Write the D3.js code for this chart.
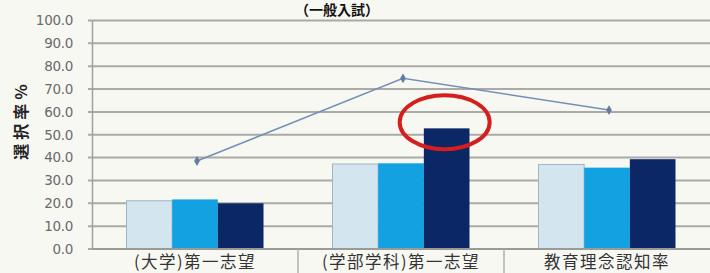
<!DOCTYPE html>
<html>
<head>
<meta charset="utf-8">
<script src="https://cdn.jsdelivr.net/npm/d3@7"></script>
<style>
  body { margin: 0; background: #f8f8f3; }
  svg { display: block; }
</style>
</head>
<body>
<div id="chart"></div>
<script>
// data
var categories = ["(大学)第一志望", "(学部学科)第一志望", "教育理念認知率"];
var seriesNames = ["系列1", "系列2", "系列3"];
var series1 = [21.1, 37.2, 37.0];
var series2 = [21.7, 37.5, 35.6];
var series3 = [20.0, 52.8, 39.3];
var lineValues = [38.5, 74.7, 60.8];
var yTicks = [0, 10, 20, 30, 40, 50, 60, 70, 80, 90, 100];
var title = "（一般入試）";
var yTitle = "選択率%";

var colors = ["#d3e5ee", "#12a2e2", "#0c2766"];

// dimensions
var margin = { top: 20.5, right: 0, bottom: 24, left: 92 },
    width = 710 - margin.left - margin.right,
    height = 273 - margin.top - margin.bottom;

var root = d3.select("#chart")
    .append("svg")
    .attr("width", 710)
    .attr("height", 273);

root.append("rect")
    .attr("width", 710)
    .attr("height", 273)
    .attr("fill", "#f8f8f3");

var svg = root.append("g")
    .attr("transform", "translate(" + margin.left + "," + margin.top + ")");

// scales
var x = d3.scaleBand()
    .domain(categories)
    .range([0, width])
    .paddingInner(0.335)
    .paddingOuter(0.1675);

var xSub = d3.scaleBand()
    .domain(seriesNames)
    .range([0, x.bandwidth()])
    .padding(0);

var y = d3.scaleLinear()
    .domain([0, 100])
    .range([height, 0]);

// gridlines
svg.append("g")
    .selectAll("line")
    .data(yTicks)
    .enter()
    .append("line")
    .attr("x1", -4)
    .attr("x2", width)
    .attr("y1", function (d) { return y(d) })
    .attr("y2", function (d) { return y(d) })
    .attr("stroke", "#aaaaa6")
    .attr("stroke-width", 2);

// y axis
var yAxis = svg.append("g")
    .call(d3.axisLeft(y).tickValues(yTicks).tickFormat(d3.format(".1f")).tickSize(0).tickPadding(19));
yAxis.select(".domain").attr("stroke", "#a0a09c").attr("stroke-width", 1.5);
yAxis.selectAll("text")
    .attr("font-family", "DejaVu Sans")
    .attr("font-size", "13.5px")
    .attr("fill", "#6a6a6a")
    .attr("letter-spacing", "-0.3px");

// bars
var barData = [series1, series2, series3];
var groups = svg.append("g")
    .selectAll("g")
    .data(categories)
    .enter()
    .append("g")
    .attr("transform", function (d) { return "translate(" + x(d) + ",0)" });

groups.selectAll("rect")
    .data(function (d, i) {
        return seriesNames.map(function (s, j) { return { key: s, value: barData[j][i], idx: j } })
    })
    .enter()
    .append("rect")
    .attr("x", function (d) { return xSub(d.key) })
    .attr("y", function (d) { return y(d.value) })
    .attr("width", xSub.bandwidth())
    .attr("height", function (d) { return height - y(d.value) })
    .attr("fill", function (d) { return colors[d.idx] })
    .attr("stroke", function (d) { return d.idx == 0 ? "#9fb4c6" : "none" })
    .attr("stroke-width", 1);

// x axis
var xAxis = svg.append("g")
    .attr("transform", "translate(0," + height + ")")
    .call(d3.axisBottom(x).tickSize(0).tickPadding(0));
xAxis.select(".domain").remove();
xAxis.selectAll("text")
    .attr("y", 19)
    .attr("dy", 0)
    .attr("font-family", "Noto Sans CJK JP")
    .attr("font-size", "16.5px")
    .attr("letter-spacing", "1.5px")
    .attr("fill", "#333");

svg.append("line")
    .attr("x1", 0).attr("x2", width)
    .attr("y1", height).attr("y2", height)
    .attr("stroke", "#9a9a96")
    .attr("stroke-width", 2);

// category separators below the axis
svg.append("g")
    .selectAll("line")
    .data(categories.slice(1))
    .enter()
    .append("line")
    .attr("x1", function (d) { return x(d) - x.step() * x.paddingInner() / 2 })
    .attr("x2", function (d) { return x(d) - x.step() * x.paddingInner() / 2 })
    .attr("y1", height)
    .attr("y2", height + margin.bottom)
    .attr("stroke", "#b0b0ac")
    .attr("stroke-width", 1.5);

// line series
var line = d3.line()
    .x(function (d, i) { return x(categories[i]) + x.bandwidth() / 2 + 2 })
    .y(function (d) { return y(d) });

svg.append("path")
    .datum(lineValues)
    .attr("d", line)
    .attr("fill", "none")
    .attr("stroke", "#7590b4")
    .attr("stroke-width", 1.5);

svg.selectAll(".marker")
    .data(lineValues)
    .enter()
    .append("path")
    .attr("class", "marker")
    .attr("d", d3.symbol().type(d3.symbolDiamond).size(28))
    .attr("transform", function (d, i) {
        return "translate(" + (x(categories[i]) + x.bandwidth() / 2 + 2) + "," + y(d) + ")"
    })
    .attr("fill", "#5f7ca3");

// red highlight ring round the tallest bar
svg.append("ellipse")
    .attr("cx", x(categories[1]) + xSub(seriesNames[2]) + xSub.bandwidth() / 2 - 2)
    .attr("cy", y(55.5))
    .attr("rx", 45)
    .attr("ry", 27)
    .attr("fill", "none")
    .attr("stroke", "#d61f1c")
    .attr("stroke-width", 4);

// title, squeezed into the strip above the plot
root.append("text")
    .attr("x", 337)
    .attr("y", 15)
    .attr("text-anchor", "middle")
    .attr("font-family", "Noto Sans CJK JP")
    .attr("font-weight", "bold")
    .attr("font-size", "14px")
    .attr("fill", "#111")
    .text(title);

// y axis title
root.append("text")
    .attr("transform", "translate(27,120) rotate(-90)")
    .attr("text-anchor", "middle")
    .attr("font-family", "Noto Sans CJK JP")
    .attr("font-weight", "bold")
    .attr("font-size", "16px")
    .attr("letter-spacing", "4px")
    .attr("fill", "#222")
    .text(yTitle);
</script>
</body>
</html>
